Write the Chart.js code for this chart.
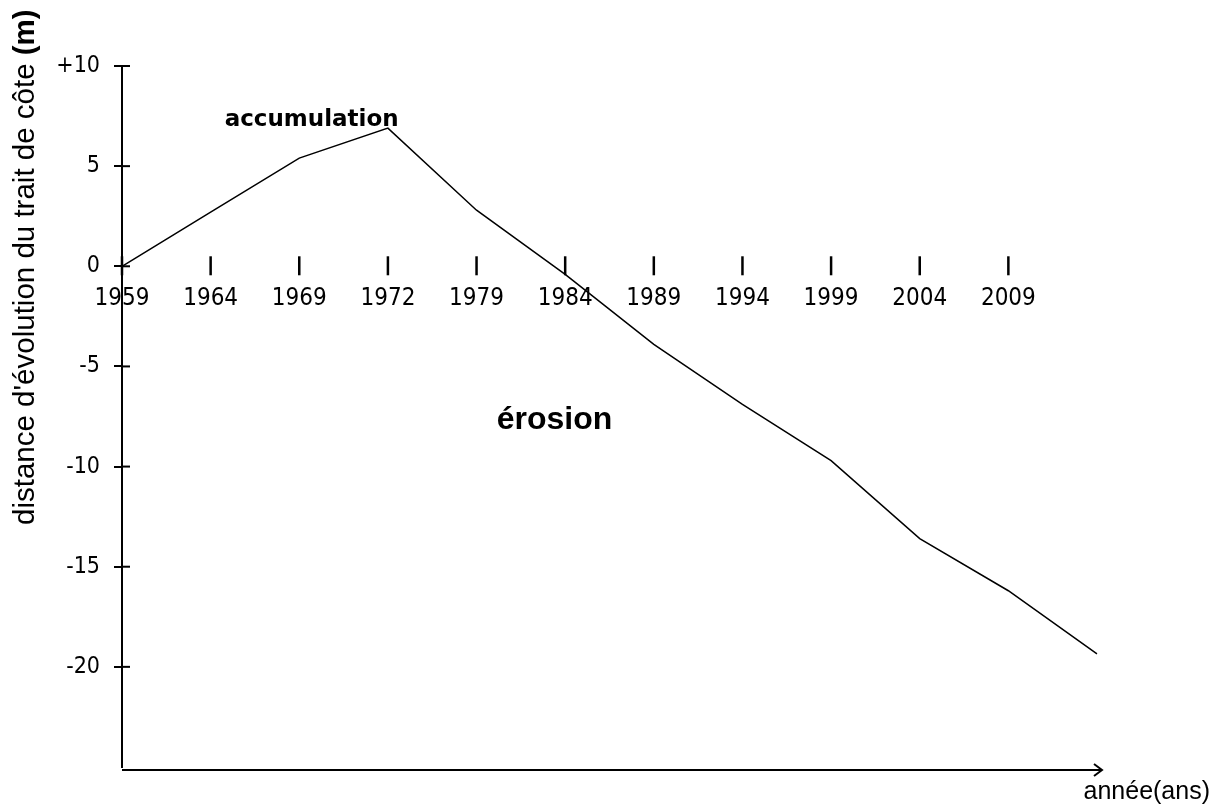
<!DOCTYPE html>
<html lang="fr">
<head>
  <meta charset="UTF-8">
  <title>Evolution du trait de côte</title>
  <script src="https://cdn.jsdelivr.net/npm/chart.js"></script>
  <style>
    body {
      margin: 0;
      background: #ffffff;
    }
    canvas {
      display: block;
    }
  </style>
</head>
<body>
  <canvas id="chart" width="1215" height="810"></canvas>

  <script>
  // annees (la derniere categorie n'a pas d'etiquette)
  const annees = ['1959', '1964', '1969', '1972', '1979', '1984', '1989', '1994', '1999', '2004', '2009', ''];
  // distance d'evolution du trait de cote (m)
  const distance = [0, 2.7, 5.4, 6.9, 2.8, -0.4, -3.9, -6.9, -9.7, -13.6, -16.2, -19.35];
  const yMin = -25;
  const yMax = 10;
  const yPas = 5;

  const titreY = "distance d'évolution du trait de côte ";
  const titreYUnite = '(m)';
  const titreX = 'année(ans)';
  // annotations placees en coordonnees de donnees [index categorie, valeur]
  const notes = [
    { texte: 'accumulation', x: 2.14, y: 7.3, font: 'bold 23px "DejaVu Sans"' },
    { texte: 'érosion', x: 4.88, y: -7.7, font: 'bold 32px "Liberation Sans"' }
  ];

  const policeTicks = '"Liberation Sans Narrow", "DejaVu Sans Condensed", sans-serif';

  const decor = {
    id: 'decor',
    afterDraw(chart) {
      const { ctx, chartArea, scales } = chart;
      const x = scales.x, y = scales.y;
      ctx.save();
      ctx.strokeStyle = '#000';
      ctx.fillStyle = '#000';

      // axe des abscisses en bas avec fleche
      const yb = chartArea.bottom + 3;
      ctx.lineWidth = 2;
      ctx.beginPath();
      ctx.moveTo(chartArea.left, yb);
      ctx.lineTo(chartArea.right + 5, yb);
      ctx.stroke();
      ctx.beginPath();
      ctx.moveTo(chartArea.right - 3, yb - 6);
      ctx.lineTo(chartArea.right + 5, yb);
      ctx.lineTo(chartArea.right - 3, yb + 6);
      ctx.stroke();

      // graduations croisees sur l'axe des ordonnees
      y.ticks.forEach(t => {
        if (t.value === yMin) return;
        const py = y.getPixelForValue(t.value);
        ctx.beginPath();
        ctx.moveTo(chartArea.left, py);
        ctx.lineTo(chartArea.left + 8, py);
        ctx.stroke();
      });

      // graduations des annees sur la ligne 0
      const y0 = y.getPixelForValue(0);
      ctx.lineWidth = 2.5;
      annees.forEach((a, i) => {
        if (!a) return;
        const px = x.getPixelForValue(i);
        ctx.beginPath();
        ctx.moveTo(px, y0 - 10);
        ctx.lineTo(px, y0 + 9);
        ctx.stroke();
      });

      // annotations
      ctx.textAlign = 'center';
      ctx.textBaseline = 'middle';
      notes.forEach(n => {
        ctx.font = n.font;
        ctx.fillText(n.texte, x.getPixelForValue(n.x), y.getPixelForValue(n.y));
      });

      // titre axe x
      ctx.font = '25px "Liberation Sans"';
      ctx.textAlign = 'right';
      ctx.textBaseline = 'alphabetic';
      ctx.fillText(titreX, chart.width - 5, chart.height - 11);

      // titre axe y
      ctx.translate(34, 525);
      ctx.rotate(-Math.PI / 2);
      ctx.textAlign = 'left';
      ctx.font = '29.5px "Liberation Sans"';
      ctx.fillText(titreY, 0, 0);
      const w = ctx.measureText(titreY).width;
      ctx.font = 'bold 29.5px "Liberation Sans"';
      ctx.fillText(titreYUnite, w, 0);
      ctx.restore();
    }
  };

  new Chart(document.getElementById('chart'), {
    type: 'line',
    data: {
      labels: annees,
      datasets: [{
        data: distance,
        borderColor: '#000',
        borderWidth: 1.5,
        pointRadius: 0,
        tension: 0,
        fill: false
      }]
    },
    options: {
      responsive: false,
      animation: false,
      devicePixelRatio: 1,
      layout: { padding: { top: 66, right: 118, bottom: 43, left: 0 } },
      plugins: {
        legend: { display: false },
        tooltip: { enabled: false }
      },
      scales: {
        x: {
          type: 'category',
          offset: false,
          position: { y: 0 },
          grid: { display: false },
          border: { display: false },
          ticks: {
            color: '#000',
            font: { family: policeTicks, size: 24 },
            padding: 10,
            maxRotation: 0,
            autoSkip: false
          }
        },
        y: {
          min: yMin,
          max: yMax,
          afterFit: s => { s.width = 122; },
          border: { display: true, color: '#000', width: 2 },
          grid: {
            drawOnChartArea: false,
            drawTicks: true,
            tickLength: 8,
            lineWidth: 2,
            color: c => (c.tick && c.tick.value === yMin) ? 'rgba(0,0,0,0)' : '#000'
          },
          ticks: {
            stepSize: yPas,
            color: '#000',
            padding: 14,
            font: { family: policeTicks, size: 23 },
            callback: v => v === yMax ? '+10' : (v === yMin ? '' : v)
          }
        }
      }
    },
    plugins: [decor]
  });
  </script>
</body>
</html>
